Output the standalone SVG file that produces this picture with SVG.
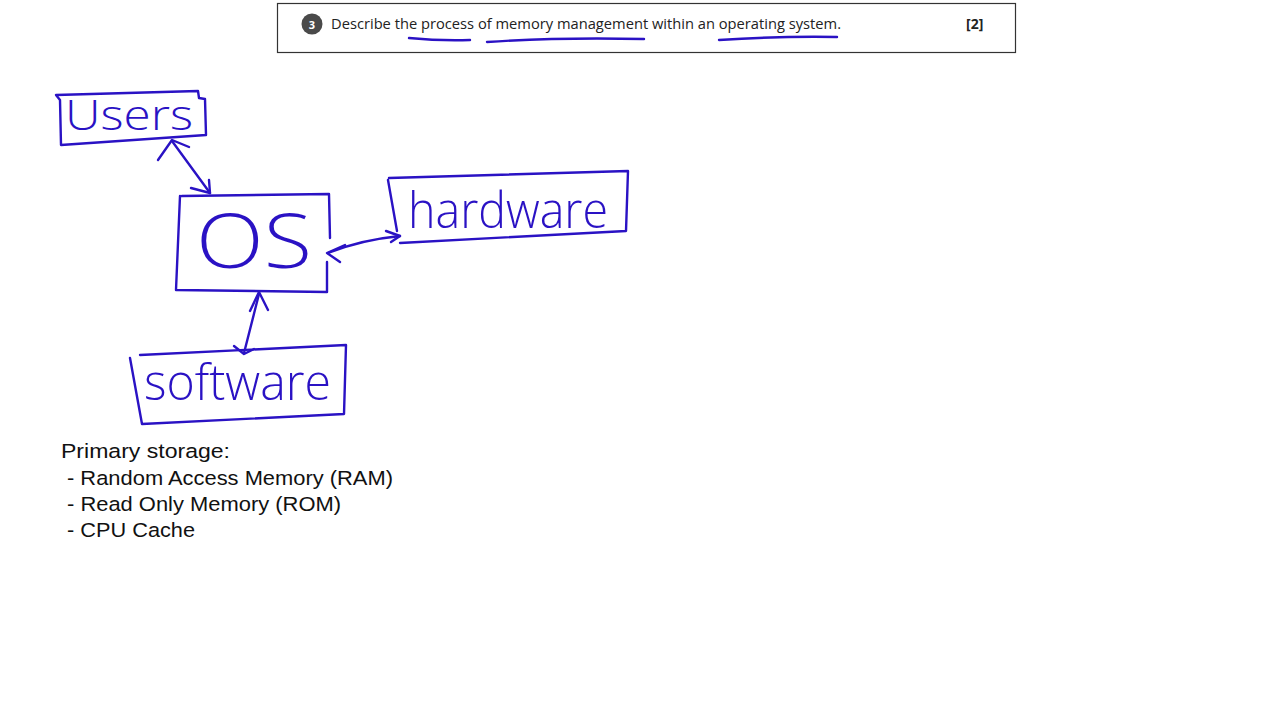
<svg xmlns="http://www.w3.org/2000/svg" width="1280" height="720" viewBox="0 0 1280 720">
<defs>
<style>
.ink{fill:none;stroke:#2a12c4;stroke-width:2.4;stroke-linecap:round;stroke-linejoin:round}
.hand{fill:#2a12c4;font-family:"Open Sans","Lato",sans-serif;font-weight:300}
.body{fill:#111;font-family:"Liberation Sans","Arial",sans-serif;font-size:20.5px}
.q{fill:#222;font-family:"Open Sans","Liberation Sans",sans-serif;font-size:14px}
</style>
</defs>
<rect width="1280" height="720" fill="#fff"/>
<g id="question">
<rect x="277.5" y="3.5" width="738" height="49" fill="#fff" stroke="#333" stroke-width="1.2"/>
<circle cx="312" cy="24" r="10.5" fill="#4a4a4a"/>
<text x="312" y="28.5" text-anchor="middle" fill="#fff" font-family="Open Sans, Liberation Sans, sans-serif" font-size="11" font-weight="bold">3</text>
<text class="q" x="331" y="29" textLength="510" lengthAdjust="spacingAndGlyphs">Describe the process of memory management within an operating system.</text>
<text class="q" x="966" y="29" font-weight="bold">[2]</text>
<path class="ink" d="M409 38 Q440 41 470 40"/>
<path class="ink" d="M487 42 Q560 37 644 39"/>
<path class="ink" d="M719 40 Q780 36 837 37"/>
</g>
<g id="users">
<path class="ink" d="M56 95 L198 91 L199 98 L205 99 L206 135 L61 145 L60 100 Z"/>
<text class="hand" x="65" y="130" font-size="42" textLength="128" lengthAdjust="spacingAndGlyphs">Users</text>
</g>
<g id="os">
<path class="ink" d="M182 196 L329 194 L330 238 M327 262 L327 292 L176 290 L180 196"/>
<text class="hand" x="196" y="268" font-size="76" textLength="116" lengthAdjust="spacingAndGlyphs">OS</text>
</g>
<g id="hardware">
<path class="ink" d="M389 178 L628 171 L626 231 L400 243 M397 231 L388 180"/>
<text class="hand" x="408" y="228" font-size="50" textLength="200" lengthAdjust="spacingAndGlyphs">hardware</text>
</g>
<g id="software">
<path class="ink" d="M140 355 L346 345 L344 414 L142 424 L130 358"/>
<text class="hand" x="144" y="400" font-size="50" textLength="187" lengthAdjust="spacingAndGlyphs">software</text>
</g>
<g id="connectors">
<path class="ink" d="M172 141 L210 193"/>
<path class="ink" d="M158 160 L172 140 L189 147"/>
<path class="ink" d="M191 188 L210 193 L209 180"/>
<path class="ink" d="M328 253 Q360 240 400 236"/>
<path class="ink" d="M345 245 L327 253 L340 262"/>
<path class="ink" d="M386 231 L400 236 L391 242"/>
<path class="ink" d="M259 294 L244 353"/>
<path class="ink" d="M250 311 L259 292 L268 310"/>
<path class="ink" d="M234 346 L244 354 L254 349"/>
</g>
<g id="notes">
<text class="body" x="61" y="458" textLength="169" lengthAdjust="spacingAndGlyphs">Primary storage:</text>
<text class="body" x="67" y="485" textLength="326" lengthAdjust="spacingAndGlyphs">- Random Access Memory (RAM)</text>
<text class="body" x="67" y="511" textLength="274" lengthAdjust="spacingAndGlyphs">- Read Only Memory (ROM)</text>
<text class="body" x="67" y="537" textLength="128" lengthAdjust="spacingAndGlyphs">- CPU Cache</text>
</g>
</svg>
